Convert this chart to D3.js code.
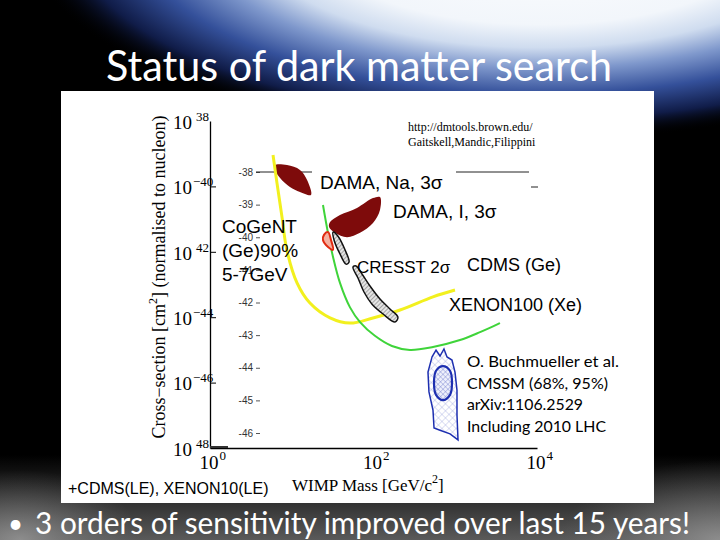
<!DOCTYPE html>
<html>
<head>
<meta charset="utf-8">
<script src="https://cdn.jsdelivr.net/npm/d3@7"></script>
<style>
  body { margin: 0; background: #000; }
  svg { display: block; }
</style>
</head>
<body>
<div id="slide"></div>
<script>
// Axis ticks
const massTicks = [1, 100, 10000];
const massTickSup = ['0', '2', '4'];
const sigmaTicks = [1e-38, 1e-40, 1e-42, 1e-44, 1e-46, 1e-48];
const sigmaTickSup = ['38', '\u221240', '42', '\u221244', '\u221246', '48'];
// small overlaid scale left over from the pasted plot
const overlayTicks = [-38, -39, -40, -41, -42, -43, -44, -45, -46];

// Limit curves: [mass GeV, cross-section cm^2]
const cdmsGe = [
  [5.9, 9.1e-40], [6.6, 1.26e-40], [7.6, 1.15e-41], [8.7, 1.15e-42],
  [11.6, 1.12e-43], [16.7, 2.7e-44], [29.4, 9.5e-45], [51.6, 6.6e-45],
  [98.6, 9.5e-45], [211, 1.66e-44], [534, 4.2e-44], [993, 6.8e-44]
];
const xenon100 = [
  [24.1, 2.7e-41], [27.8, 3.7e-42], [32.0, 6.9e-43], [38.9, 1.12e-43],
  [51.6, 2.0e-44], [68.4, 7.1e-45], [104, 2.7e-45], [168, 1.32e-45],
  [279, 1.0e-45], [534, 1.23e-45], [1143, 2.0e-45], [2010, 3.5e-45],
  [3525, 6.6e-45]
];

// Allowed regions
const damaNa = [
  [6.24, 4.5e-40], [8.75, 4.5e-40], [12.6, 3.2e-40], [15.4, 1.57e-40],
  [17.2, 5.5e-41], [12.6, 6.8e-41], [9.5, 9.6e-41], [7.2, 1.81e-40],
  [6.24, 3.2e-40]
];
const damaI = [
  [29.4, 8.1e-42], [38.9, 1.33e-41], [62.8, 2.2e-41], [98.6, 4.4e-41],
  [120, 4.7e-41], [120, 1.9e-41], [98.6, 7.6e-42], [68.4, 3.8e-42],
  [47.4, 2.8e-42], [33.8, 3.8e-42], [28.6, 5.7e-42]
];
const cogent = [
  [24.8, 3.3e-42], [27.8, 4.0e-42], [30.2, 2.3e-42], [32.0, 1.15e-42],
  [27.8, 1.4e-42], [24.1, 2.3e-42]
];
const cresstSmall = [
  [32.0, 4.0e-42], [36.8, 3.0e-42], [44.8, 1.15e-42], [50.2, 4.9e-43],
  [46.1, 4.2e-43], [38.9, 8.6e-43], [32.9, 2.3e-42]
];
const cresstLarge = [
  [56.1, 3.4e-43], [64.6, 1.58e-43], [76.5, 5.9e-44], [95.9, 2.5e-44],
  [131, 1.25e-44], [183, 7.1e-45], [199, 1.01e-44], [159, 1.78e-44],
  [120, 3.6e-44], [90.6, 9.0e-44], [72.3, 2.1e-43], [61.1, 3.7e-43]
];
const cmssmOuter = [
  [520, 6.1e-46], [582, 9.9e-46], [651, 6.5e-46], [728, 1.07e-45],
  [793, 6.1e-46], [912, 4.9e-46], [993, 2.1e-46], [1050, 5.9e-47],
  [1050, 1.02e-47], [1081, 1.76e-48], [863, 2.7e-48], [651, 3.5e-48],
  [550, 4.1e-48], [534, 1.45e-47], [477, 5.2e-47], [464, 2.1e-46]
];
const cmssmInner = [
  [708, 3.2e-46], [863, 2.3e-46], [912, 9.7e-47], [863, 4.2e-47],
  [708, 2.9e-47], [582, 4.2e-47], [550, 9.7e-47], [582, 2.3e-46]
];

const width = 720;
const height = 540;

const svg = d3
  .select('#slide')
  .append('svg')
  .attr('width', width)
  .attr('height', height);

const defs = svg.append('defs');

// Glow at the top of the slide
const glow = defs
  .append('radialGradient')
  .attr('id', 'glow')
  .attr('cx', '50%')
  .attr('cy', '50%')
  .attr('r', '50%');
[
  ['0%', '#ffffff', 1],
  ['45%', '#f2f6fb', 1],
  ['56%', '#cfdcef', 1],
  ['66%', '#7f98cc', 1],
  ['78%', '#34509a', 1],
  ['90%', '#101c48', 1],
  ['100%', '#000000', 0]
].forEach((s) => {
  glow.append('stop').attr('offset', s[0]).attr('stop-color', s[1]).attr('stop-opacity', s[2]);
});

const smoke = defs
  .append('linearGradient')
  .attr('id', 'smoke')
  .attr('x1', 0).attr('y1', 0).attr('x2', 0).attr('y2', 1);
smoke.append('stop').attr('offset', '0%').attr('stop-color', '#666').attr('stop-opacity', 0);
smoke.append('stop').attr('offset', '100%').attr('stop-color', '#6a6a6a').attr('stop-opacity', 0.85);

const corner = defs
  .append('radialGradient')
  .attr('id', 'corner');
corner.append('stop').attr('offset', '0%').attr('stop-color', '#9a9a9a').attr('stop-opacity', 0.8);
corner.append('stop').attr('offset', '100%').attr('stop-color', '#777').attr('stop-opacity', 0);

// Hatches
const grayHatch = defs
  .append('pattern')
  .attr('id', 'grayHatch')
  .attr('width', 3)
  .attr('height', 3)
  .attr('patternUnits', 'userSpaceOnUse')
  .attr('patternTransform', 'rotate(45)');
grayHatch.append('rect').attr('width', 3).attr('height', 3).attr('fill', '#e4e4e4');
grayHatch.append('line').attr('x1', 0).attr('y1', 0).attr('x2', 0).attr('y2', 3)
  .attr('stroke', '#666').attr('stroke-width', 1);

const blueHatch = defs
  .append('pattern')
  .attr('id', 'blueHatch')
  .attr('width', 5)
  .attr('height', 5)
  .attr('patternUnits', 'userSpaceOnUse')
  .attr('patternTransform', 'rotate(45)');
blueHatch.append('rect').attr('width', 5).attr('height', 5).attr('fill', '#ffffff');
blueHatch.append('line').attr('x1', 0).attr('y1', 0).attr('x2', 0).attr('y2', 5)
  .attr('stroke', '#9aa3dc').attr('stroke-width', 0.7);
blueHatch.append('line').attr('x1', 0).attr('y1', 0).attr('x2', 5).attr('y2', 0)
  .attr('stroke', '#9aa3dc').attr('stroke-width', 0.7);

const blueHatchDense = defs
  .append('pattern')
  .attr('id', 'blueHatchDense')
  .attr('width', 3.5)
  .attr('height', 3.5)
  .attr('patternUnits', 'userSpaceOnUse')
  .attr('patternTransform', 'rotate(45)');
blueHatchDense.append('rect').attr('width', 3.5).attr('height', 3.5).attr('fill', '#eef0fb');
blueHatchDense.append('line').attr('x1', 0).attr('y1', 0).attr('x2', 0).attr('y2', 3.5)
  .attr('stroke', '#6a76cc').attr('stroke-width', 0.7);
blueHatchDense.append('line').attr('x1', 0).attr('y1', 0).attr('x2', 3.5).attr('y2', 0)
  .attr('stroke', '#6a76cc').attr('stroke-width', 0.7);

// Slide background
svg.append('rect').attr('width', width).attr('height', height).attr('fill', '#000');
svg.append('ellipse')
  .attr('cx', 540).attr('cy', -70)
  .attr('rx', 520).attr('ry', 210)
  .attr('fill', 'url(#glow)');
svg.append('rect')
  .attr('x', 0).attr('y', 455).attr('width', width).attr('height', 85)
  .attr('fill', 'url(#smoke)');
svg.append('ellipse')
  .attr('cx', 720).attr('cy', 540)
  .attr('rx', 160).attr('ry', 80)
  .attr('fill', 'url(#corner)');
svg.append('ellipse')
  .attr('cx', 20).attr('cy', 540)
  .attr('rx', 120).attr('ry', 70)
  .attr('fill', 'url(#corner)');

// Title
svg.append('text')
  .attr('x', 359)
  .attr('y', 81)
  .attr('text-anchor', 'middle')
  .attr('textLength', 506)
  .attr('lengthAdjust', 'spacingAndGlyphs')
  .style('font-family', 'Lato, sans-serif')
  .style('font-size', '42px')
  .style('fill', '#fff')
  .text('Status of dark matter search');

// White panel holding the plot
svg.append('rect')
  .attr('x', 61).attr('y', 91)
  .attr('width', 593).attr('height', 412)
  .attr('fill', '#fff');

// Bullet text
svg.append('text')
  .attr('x', 8)
  .attr('y', 533)
  .style('font-family', 'Lato, sans-serif')
  .style('font-size', '26px')
  .style('fill', '#fff')
  .text('\u2022');
svg.append('text')
  .attr('x', 35)
  .attr('y', 534)
  .attr('textLength', 655)
  .attr('lengthAdjust', 'spacingAndGlyphs')
  .style('font-family', 'Lato, sans-serif')
  .style('font-size', '30px')
  .style('fill', '#fff')
  .text('3 orders of sensitivity improved over last 15 years!');

// Scales
const x = d3.scaleLog().domain([1, 1e4]).range([210, 537]);
const y = d3.scaleLog().domain([1e-48, 1e-38]).range([448, 121]);
const yOver = d3.scaleLinear().domain([-46, -38]).range([433, 172]);

const serif = '"Liberation Serif", "DejaVu Serif", serif';
const sans = '"Liberation Sans", Arial, sans-serif';

// Overlaid small scale
const overAxis = d3.axisLeft(yOver)
  .tickValues(overlayTicks)
  .tickSize(4)
  .tickPadding(3)
  .tickFormat((d) => d);
const overG = svg.append('g')
  .attr('transform', 'translate(260,0)')
  .call(overAxis);
overG.select('.domain').remove();
overG.selectAll('line').attr('stroke', '#555');
overG.selectAll('text')
  .style('font-family', sans)
  .style('font-size', '10px')
  .style('fill', '#333');

// stray rule at the -38 level of the overlay
svg.append('line')
  .attr('x1', 256).attr('x2', 312)
  .attr('y1', yOver(-38)).attr('y2', yOver(-38))
  .attr('stroke', '#222').attr('stroke-width', 1);
svg.append('line')
  .attr('x1', 456).attr('x2', 529)
  .attr('y1', yOver(-38)).attr('y2', yOver(-38))
  .attr('stroke', '#222').attr('stroke-width', 1);
svg.append('line')
  .attr('x1', 531).attr('x2', 538)
  .attr('y1', 187).attr('y2', 187)
  .attr('stroke', '#222').attr('stroke-width', 1);

// Y axis
const yAxis = d3.axisLeft(y)
  .tickValues(sigmaTicks)
  .tickSizeInner(-6)
  .tickSizeOuter(0)
  .tickPadding(37)
  .tickFormat(() => '');
const yG = svg.append('g')
  .attr('transform', 'translate(210,0)')
  .call(yAxis);
yG.select('.domain').attr('stroke', '#000').attr('stroke-width', 1.3);
yG.selectAll('.tick line')
  .attr('stroke', '#000')
  .attr('opacity', (d, i) => (i === 0 || i === 5 ? 0 : 1));
yG.selectAll('.tick text')
  .attr('text-anchor', 'start')
  .attr('dy', '0.38em')
  .style('font-family', serif)
  .style('font-size', '19px')
  .style('fill', '#000')
  .each(function (d, i) {
    const t = d3.select(this);
    t.append('tspan').text('10');
    t.append('tspan')
      .attr('dx', sigmaTickSup[i].startsWith('\u2212') ? 1 : 4)
      .attr('dy', -8)
      .style('font-size', '13px')
      .text(sigmaTickSup[i]);
  });

// X axis
const xAxis = d3.axisBottom(x)
  .tickValues(massTicks)
  .tickSize(0)
  .tickSizeOuter(0)
  .tickPadding(8)
  .tickFormat(() => '');
const xG = svg.append('g')
  .attr('transform', 'translate(0,448)')
  .call(xAxis);
xG.select('.domain').attr('stroke', '#000').attr('stroke-width', 1.3);
xG.selectAll('.tick text')
  .attr('text-anchor', 'start')
  .attr('x', -11)
  .style('font-family', serif)
  .style('font-size', '19px')
  .style('fill', '#000')
  .each(function (d, i) {
    const t = d3.select(this);
    t.append('tspan').text('10');
    t.append('tspan')
      .attr('dx', 1)
      .attr('dy', -9)
      .style('font-size', '13px')
      .text(massTickSup[i]);
  });
svg.append('line')
  .attr('x1', 210).attr('x2', 228)
  .attr('y1', 447).attr('y2', 447)
  .attr('stroke', '#333').attr('stroke-width', 2);

// Axis titles
const xTitle = svg.append('text')
  .attr('x', 292)
  .attr('y', 491)
  .style('font-family', serif)
  .style('font-size', '17px')
  .style('fill', '#000');
xTitle.append('tspan').text('WIMP Mass [GeV/c');
xTitle.append('tspan').attr('dy', -8).style('font-size', '12px').text('2');
xTitle.append('tspan').attr('dy', 8).text(']');

const yTitle = svg.append('text')
  .attr('transform', 'translate(165,277) rotate(-90)')
  .attr('text-anchor', 'middle')
  .style('font-family', serif)
  .style('font-size', '18px')
  .style('fill', '#000');
yTitle.append('tspan').text('Cross\u2212section [cm');
yTitle.append('tspan').attr('dy', -8).style('font-size', '12px').text('2');
yTitle.append('tspan').attr('dy', 8).text('] (normalised to nucleon)');

// Shapes
const line = d3.line()
  .x((d) => x(d[0]))
  .y((d) => y(d[1]))
  .curve(d3.curveCatmullRom);
const area = d3.line()
  .x((d) => x(d[0]))
  .y((d) => y(d[1]))
  .curve(d3.curveCatmullRomClosed);

svg.append('path')
  .datum(damaNa)
  .attr('d', area)
  .attr('fill', '#7e0b0b');
svg.append('path')
  .datum(damaI)
  .attr('d', area)
  .attr('fill', '#7e0b0b');

svg.append('path')
  .datum(cdmsGe)
  .attr('d', line)
  .attr('fill', 'none')
  .attr('stroke', '#f2f01e')
  .attr('stroke-width', 3);

svg.append('path')
  .datum(cresstSmall)
  .attr('d', area)
  .attr('fill', 'url(#grayHatch)')
  .attr('stroke', '#111')
  .attr('stroke-width', 1.5);
svg.append('path')
  .datum(cresstLarge)
  .attr('d', area)
  .attr('fill', 'url(#grayHatch)')
  .attr('stroke', '#111')
  .attr('stroke-width', 1.5);

svg.append('path')
  .datum(xenon100)
  .attr('d', line)
  .attr('fill', 'none')
  .attr('stroke', '#3fd43a')
  .attr('stroke-width', 2);

svg.append('path')
  .datum(cogent)
  .attr('d', area)
  .attr('fill', '#f4b0a0')
  .attr('stroke', '#e02a10')
  .attr('stroke-width', 2);

svg.append('path')
  .datum(cmssmOuter)
  .attr('d', d3.line().x((d) => x(d[0])).y((d) => y(d[1])).curve(d3.curveLinearClosed))
  .attr('fill', 'url(#blueHatch)')
  .attr('stroke', '#1d2fb0')
  .attr('stroke-width', 1.5);
svg.append('path')
  .datum(cmssmInner)
  .attr('d', area)
  .attr('fill', 'url(#blueHatchDense)')
  .attr('stroke', '#1d2fb0')
  .attr('stroke-width', 2.2);

// Labels
function label(txt, lx, ly, size, family, color) {
  return svg.append('text')
    .attr('x', lx)
    .attr('y', ly)
    .style('font-family', family || sans)
    .style('font-size', size + 'px')
    .style('fill', color || '#000')
    .text(txt);
}

label('http://dmtools.brown.edu/', 408, 131, 12, serif);
label('Gaitskell,Mandic,Filippini', 408, 146, 12, serif);

label('DAMA, Na, 3\u03c3', 320, 189, 19);
label('DAMA, I, 3\u03c3', 393, 218, 19);
label('CoGeNT', 222, 233, 19);
label('(Ge)90%', 222, 257, 19);
label('5-7GeV', 222, 281, 19);
label('CRESST 2\u03c3', 357, 273, 17);
label('CDMS (Ge)', 467, 271, 18);
label('XENON100 (Xe)', 449, 311, 18);

const calibri = 'Lato, "Open Sans", sans-serif';
[
  ['O. Buchmueller et al.', 367, 152],
  ['CMSSM (68%, 95%)', 389, 141],
  ['arXiv:1106.2529', 410, 116],
  ['Including 2010 LHC', 432, 139]
].forEach((r) => {
  label(r[0], 467, r[1], 15, calibri)
    .attr('textLength', r[2])
    .attr('lengthAdjust', 'spacingAndGlyphs');
});

label('+CDMS(LE), XENON10(LE)', 68, 494, 16);
</script>
</body>
</html>
